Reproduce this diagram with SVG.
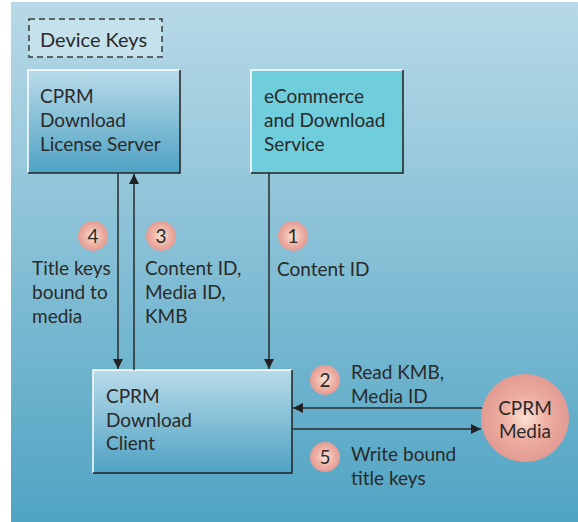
<svg xmlns="http://www.w3.org/2000/svg" width="578" height="522" viewBox="0 0 578 522">
  <defs>
    <linearGradient id="bg" x1="0" y1="0" x2="0" y2="1">
      <stop offset="0" stop-color="#b8d9e7"/>
      <stop offset="1" stop-color="#50a4c3"/>
    </linearGradient>
    <linearGradient id="boxGrad" x1="0" y1="0" x2="0" y2="1">
      <stop offset="0" stop-color="#b9dbe9"/>
      <stop offset="1" stop-color="#4fa2c3"/>
    </linearGradient>
    <radialGradient id="badge" cx="0.5" cy="0.5" r="0.5">
      <stop offset="0" stop-color="#fbe4d6"/>
      <stop offset="0.6" stop-color="#eeb2a6"/>
      <stop offset="1" stop-color="#e49c93"/>
    </radialGradient>
    <radialGradient id="media" cx="0.5" cy="0.5" r="0.5">
      <stop offset="0" stop-color="#fbe0d0"/>
      <stop offset="0.5" stop-color="#eeaea2"/>
      <stop offset="1" stop-color="#e29b92"/>
    </radialGradient>
    <marker id="arrow" viewBox="0 0 10 10" refX="10" refY="5" markerWidth="10" markerHeight="10" markerUnits="userSpaceOnUse" orient="auto">
      <path d="M0,0 L10,5 L0,10 Z" fill="#222"/>
    </marker>
  </defs>
  <style>
    text { font-family: Lato, "Open Sans", "Liberation Sans", sans-serif; font-size: 19px; fill: #2a2a2a; }
    .num { font-size: 19px; text-anchor: middle; }
    .edge { stroke: #2a2a2a; stroke-width: 1.5; fill: none; }
    .shadow { stroke: #222; stroke-width: 1.5; fill: none; }
    .hilite { stroke: #ffffff; stroke-width: 1.5; fill: none; }
  </style>

  <!-- panel -->
  <rect x="11" y="2" width="567" height="520" fill="url(#bg)"/>

  <g id="device-keys">
    <rect x="29" y="19" width="133" height="38" fill="#c4e1ec" stroke="#3a3a3a" stroke-width="1.5" stroke-dasharray="6,4"/>
    <text x="40" y="47" style="font-size:20px">Device Keys</text>
  </g>

  <g id="license-server">
    <rect x="28" y="70" width="152" height="103" fill="url(#boxGrad)"/>
    <path class="hilite" d="M28,173 V70 H180"/>
    <path class="shadow" d="M180,70 V173 H28"/>
    <text x="40" y="103">CPRM</text>
    <text x="40" y="127">Download</text>
    <text x="40" y="151">License Server</text>
  </g>

  <g id="ecommerce">
    <rect x="251" y="70" width="152" height="103" fill="#6fcddc"/>
    <path class="hilite" d="M251,173 V70 H403"/>
    <path class="shadow" d="M403,70 V173 H251"/>
    <text x="264" y="103">eCommerce</text>
    <text x="264" y="127">and Download</text>
    <text x="264" y="151">Service</text>
  </g>

  <g id="client">
    <rect x="93" y="370" width="199" height="103" fill="url(#boxGrad)"/>
    <path class="hilite" d="M93,473 V370 H292"/>
    <path class="shadow" d="M292,370 V473 H93"/>
    <text x="106" y="403">CPRM</text>
    <text x="106" y="427">Download</text>
    <text x="106" y="450">Client</text>
  </g>

  <g id="cprm-media">
    <circle cx="525" cy="418" r="44" fill="url(#media)"/>
    <text x="525" y="415" text-anchor="middle">CPRM</text>
    <text x="525" y="438" text-anchor="middle">Media</text>
  </g>

  <g id="connectors">
    <line class="edge" x1="118" y1="173" x2="118" y2="369" marker-end="url(#arrow)"/>
    <line class="edge" x1="134" y1="370" x2="134" y2="174" marker-end="url(#arrow)"/>
    <line class="edge" x1="269" y1="173" x2="269" y2="369" stroke="#4a5560" marker-end="url(#arrow)"/>
    <line class="edge" x1="482" y1="408" x2="293" y2="408" marker-end="url(#arrow)"/>
    <line class="edge" x1="293" y1="429" x2="481" y2="429" marker-end="url(#arrow)"/>
  </g>

  <g id="step-labels">
    <circle cx="93" cy="236" r="15" fill="url(#badge)"/>
    <text class="num" x="93" y="243">4</text>
    <text x="32" y="275">Title keys</text>
    <text x="32" y="299">bound to</text>
    <text x="32" y="323">media</text>

    <circle cx="161" cy="236" r="15" fill="url(#badge)"/>
    <text class="num" x="161" y="243">3</text>
    <text x="145" y="275">Content ID,</text>
    <text x="145" y="299">Media ID,</text>
    <text x="145" y="323">KMB</text>

    <circle cx="293" cy="236" r="15" fill="url(#badge)"/>
    <text class="num" x="293" y="243">1</text>
    <text x="277" y="276">Content ID</text>

    <circle cx="325" cy="380" r="15" fill="url(#badge)"/>
    <text class="num" x="325" y="387">2</text>
    <text x="351" y="379">Read KMB,</text>
    <text x="351" y="403">Media ID</text>

    <circle cx="325" cy="457" r="15" fill="url(#badge)"/>
    <text class="num" x="325" y="464">5</text>
    <text x="351" y="461">Write bound</text>
    <text x="351" y="485">title keys</text>
  </g>
</svg>
